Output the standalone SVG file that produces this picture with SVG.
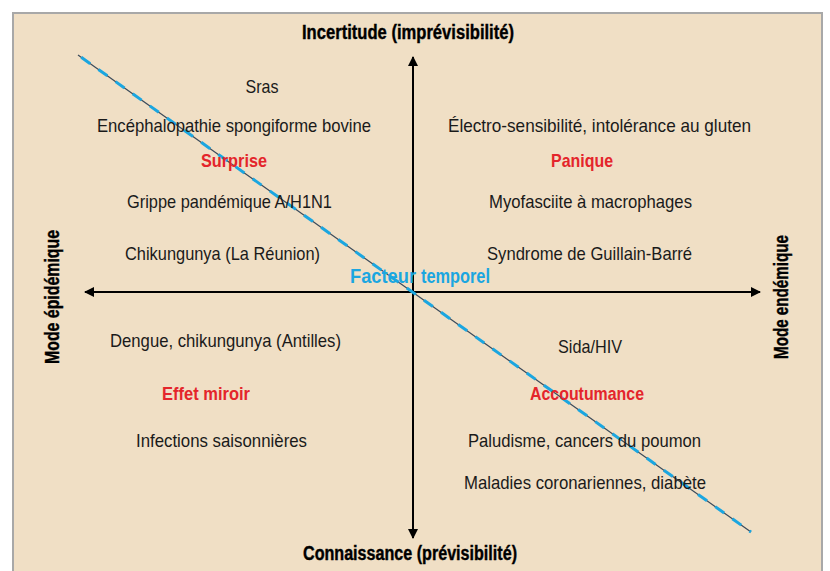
<svg xmlns="http://www.w3.org/2000/svg" width="830" height="571" viewBox="0 0 830 571">
<defs>
<style>
.t{font-family:"Liberation Sans Narrow","Liberation Sans",Arial,sans-serif;font-size:18.5px;fill:#1a1a1a;text-anchor:middle}
.h{font-family:"Liberation Sans Narrow","Liberation Sans",Arial,sans-serif;font-size:20px;font-weight:bold;fill:#000;text-anchor:middle;stroke:#000;stroke-width:0.4}
.r{font-family:"Liberation Sans Narrow","Liberation Sans",Arial,sans-serif;font-size:18.5px;font-weight:bold;fill:#e4252b;text-anchor:middle}
.b{font-family:"Liberation Sans Narrow","Liberation Sans",Arial,sans-serif;font-size:19.5px;font-weight:bold;fill:#1ba6e0}
.ax{stroke:#000;stroke-width:2;fill:none}
</style>
<marker id="ah" viewBox="0 0 10 10" refX="9" refY="5" markerWidth="5" markerHeight="5" orient="auto-start-reverse"><path d="M0,0 L10,5 L0,10 z" fill="#000"/></marker>
</defs>
<rect x="0" y="0" width="830" height="571" fill="#fff"/>
<rect x="13" y="13" width="809" height="570" fill="#f0dfc5" stroke="#a8a8a8" stroke-width="2"/>
<g id="connectors">
<line class="ax" x1="413" y1="538" x2="413" y2="57" marker-end="url(#ah)"/>
<line class="ax" x1="413" y1="292" x2="413" y2="538" marker-end="url(#ah)"/>
<line class="ax" x1="85" y1="292" x2="760" y2="292" marker-start="url(#ah)" marker-end="url(#ah)"/>
<line x1="78" y1="55" x2="751" y2="532" stroke="#3a4a5a" stroke-width="1.2"/>
<line x1="78" y1="55" x2="751" y2="532" stroke="#1ba6e0" stroke-width="3" stroke-dasharray="11 10" stroke-dashoffset="-4"/>
</g>
<g id="axis-top"><text class="h" x="408" y="39" textLength="212" lengthAdjust="spacingAndGlyphs">Incertitude (imprévisibilité)</text></g>
<g id="axis-bottom"><text class="h" x="410" y="560" textLength="214" lengthAdjust="spacingAndGlyphs">Connaissance (prévisibilité)</text></g>
<g id="axis-left"><text class="h" transform="translate(59,297) rotate(-90)" x="0" y="0" textLength="134" lengthAdjust="spacingAndGlyphs">Mode épidémique</text></g>
<g id="axis-right"><text class="h" transform="translate(788,297) rotate(-90)" x="0" y="0" textLength="124" lengthAdjust="spacingAndGlyphs">Mode endémique</text></g>
<g id="n-sras"><text class="t" x="262" y="92.5" textLength="33" lengthAdjust="spacingAndGlyphs">Sras</text></g>
<g id="n-esb"><text class="t" x="234" y="131.5" textLength="274" lengthAdjust="spacingAndGlyphs">Encéphalopathie spongiforme bovine</text></g>
<g id="n-surprise"><text class="r" x="234" y="166.5" textLength="66" lengthAdjust="spacingAndGlyphs">Surprise</text></g>
<g id="n-grippe"><text class="t" x="229.5" y="207.5" textLength="205" lengthAdjust="spacingAndGlyphs">Grippe pandémique A/H1N1</text></g>
<g id="n-chik"><text class="t" x="222.5" y="259.5" textLength="195" lengthAdjust="spacingAndGlyphs">Chikungunya (La Réunion)</text></g>
<g id="n-electro"><text class="t" x="599.5" y="131.5" textLength="303" lengthAdjust="spacingAndGlyphs">Électro-sensibilité, intolérance au gluten</text></g>
<g id="n-panique"><text class="r" x="582" y="166.5" textLength="62" lengthAdjust="spacingAndGlyphs">Panique</text></g>
<g id="n-myo"><text class="t" x="590.5" y="207.5" textLength="203" lengthAdjust="spacingAndGlyphs">Myofasciite à macrophages</text></g>
<g id="n-gb"><text class="t" x="589.5" y="259.5" textLength="205" lengthAdjust="spacingAndGlyphs">Syndrome de Guillain-Barré</text></g>
<g id="n-facteur"><text class="b" x="350" y="282.5"><tspan x="350" textLength="66" lengthAdjust="spacingAndGlyphs">Facteur</tspan><tspan x="421" textLength="69" lengthAdjust="spacingAndGlyphs">temporel</tspan></text></g>
<g id="n-dengue"><text class="t" x="225.5" y="346.5" textLength="231" lengthAdjust="spacingAndGlyphs">Dengue, chikungunya (Antilles)</text></g>
<g id="n-miroir"><text class="r" x="206" y="399.5" textLength="88" lengthAdjust="spacingAndGlyphs">Effet miroir</text></g>
<g id="n-infections"><text class="t" x="221.5" y="446.5" textLength="171" lengthAdjust="spacingAndGlyphs">Infections saisonnières</text></g>
<g id="n-sida"><text class="t" x="590" y="352.5" textLength="64" lengthAdjust="spacingAndGlyphs">Sida/HIV</text></g>
<g id="n-accout"><text class="r" x="587" y="399.5" textLength="114" lengthAdjust="spacingAndGlyphs">Accoutumance</text></g>
<g id="n-palu"><text class="t" x="584.5" y="446.5" textLength="233" lengthAdjust="spacingAndGlyphs">Paludisme, cancers du poumon</text></g>
<g id="n-coro"><text class="t" x="585" y="488.5" textLength="242" lengthAdjust="spacingAndGlyphs">Maladies coronariennes, diabète</text></g>
</svg>
